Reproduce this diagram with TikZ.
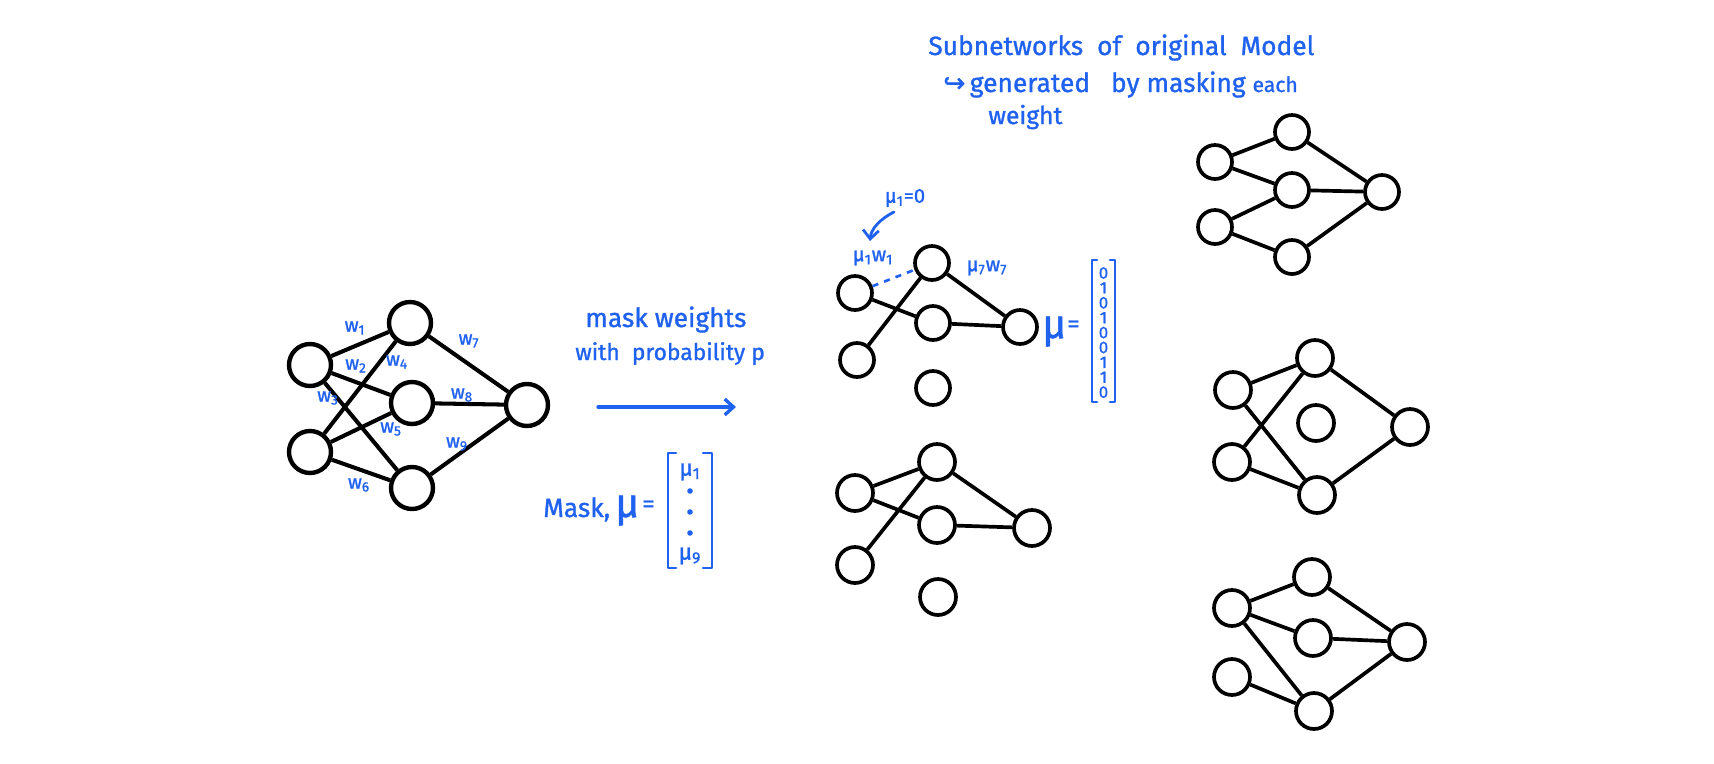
\documentclass[tikz,border=0pt]{standalone}
\usepackage{fontspec}
\setmainfont{Fira Sans}[FakeBold=1.2]
\newfontfamily\dejavu{DejaVu Sans}[FakeBold=1.2]
\usetikzlibrary{arrows.meta}
\definecolor{hb}{RGB}{32,98,240}
\begin{document}
\begin{tikzpicture}[x=0.02cm,y=-0.02cm,
  big/.style={circle,draw,line width=2.5pt,minimum size=0.84cm,inner sep=0},
  sm/.style={circle,draw,line width=2.1pt,minimum size=0.68cm,inner sep=0},
  smm/.style={circle,draw,line width=2.1pt,minimum size=0.72cm,inner sep=0},
  ed/.style={line width=2.1pt},
  wl/.style={text=hb,font=\fontsize{11}{13}\selectfont,inner sep=0},
  bl/.style={text=hb,inner sep=0},
  vec/.style={text=hb,font=\fontsize{9.5}{10}\selectfont,inner sep=0},
  brk/.style={draw=hb,line width=1.5pt,line cap=round,line join=round},
  harrow/.style={draw=hb,line width=1.6pt,line cap=round,-{Straight Barb[length=5pt,width=9pt]}}]
\useasboundingbox (0,0) rectangle (1714,764);

% ---------- left network ----------
\node[big] (a1) at (310,365) {};
\node[big] (a2) at (310,452) {};
\node[big] (b1) at (410,323) {};
\node[big] (b2) at (412,403) {};
\node[big] (b3) at (412,488) {};
\node[big] (c) at (527,405) {};
\foreach \i in {a1,a2}{\foreach \j in {b1,b2,b3}{\draw[ed,line width=2.3pt] (\i)--(\j);}}
\foreach \j in {b1,b2,b3}{\draw[ed,line width=2.3pt] (\j)--(c);}
\node[wl] (w1) at (355,328) {w\textsubscript{1}};
\node[wl] (w2) at (356,366) {w\textsubscript{2}};
\node[wl] (w3) at (328,398) {w\textsubscript{3}};
\node[wl] (w4) at (397,362) {w\textsubscript{4}};
\node[wl] (w5) at (391,429) {w\textsubscript{5}};
\node[wl] (w6) at (359,485) {w\textsubscript{6}};
\node[wl] (w7) at (469,341) {w\textsubscript{7}};
\node[wl] (w8) at (462,395) {w\textsubscript{8}};
\node[wl] (w9) at (457,444) {w\textsubscript{9}};

% ---------- arrow and its text ----------
\node[bl,anchor=base west,font=\fontsize{15}{18}\selectfont] (mw) at (585,327) {mask weights};
\node[bl,anchor=base west,font=\fontsize{13}{16}\selectfont] (wp) at (575,360) {with\ \ probability p};
\coordinate (ar1) at (598,407);
\coordinate (ar2) at (736,407);
\draw[harrow,line width=1.9pt] (ar1)--(ar2);

% ---------- mask vector ----------
\node[bl,anchor=base west,font=\fontsize{15}{18}\selectfont] (mk) at (543,517) {Mask,};
\node[bl,anchor=base west,font=\fontsize{23}{26}\selectfont] (mu) at (615,517) {μ};
\node[bl,anchor=base west,font=\fontsize{14}{16}\selectfont] (eq) at (642,512) {=};
\draw[brk] (676,453) -- (668,453) -- (668,568) -- (676,568);
\draw[brk] (703,453) -- (712,453) -- (712,568) -- (703,568);
\node[bl,font=\fontsize{13}{15}\selectfont] (m1) at (690,472) {μ\textsubscript{1}};
\fill[hb] (690,491) circle (2.8);
\fill[hb] (690,512) circle (2.8);
\fill[hb] (690,533) circle (2.8);
\node[bl,font=\fontsize{13}{15}\selectfont] (m9) at (690,556) {μ\textsubscript{9}};

% ---------- middle top network ----------
\node[sm] (p1) at (855,293) {};
\node[sm] (p2) at (857,360) {};
\node[sm] (q1) at (932,263) {};
\node[sm] (q2) at (933,323) {};
\node[sm] (q3) at (933,388) {};
\node[sm] (r) at (1020,327) {};
\draw[ed] (p1)--(q2);
\draw[ed] (p2)--(q1);
\draw[ed] (q1)--(r);
\draw[ed] (q2)--(r);
\draw[hb,line width=1.5pt,dash pattern=on 3.5pt off 3.5pt] (p1)--(q1);
\node[wl,font=\fontsize{11.5}{13}\selectfont] (l1) at (873,258) {μ\textsubscript{1}w\textsubscript{1}};
\node[wl,font=\fontsize{11.5}{13}\selectfont] (l7) at (987,268) {μ\textsubscript{7}w\textsubscript{7}};
\node[wl,font=\fontsize{11.5}{13}\selectfont] (l0) at (905,198) {μ\textsubscript{1}=0};
\coordinate (ca1) at (894,212);
\coordinate (ca2) at (870,241);
\draw[harrow,line width=1.6pt] (ca1) .. controls (880,219) and (871,229) .. (ca2);
\node[bl,anchor=base west,font=\fontsize{23}{26}\selectfont] (mu2) at (1042,338) {μ};
\node[bl,anchor=base west,font=\fontsize{14}{16}\selectfont] (eq2) at (1067,332) {=};
\draw[brk] (1097,260) -- (1092,260) -- (1092,402) -- (1097,402);
\draw[brk] (1110,260) -- (1115,260) -- (1115,402) -- (1110,402);
\foreach \v [count=\k from 0] in {0,1,0,1,0,0,1,1,0}{
  \node[vec] (v\k) at (1103.5,273+14.9*\k) {\v};
}

% ---------- middle bottom network ----------
\node[smm] (s1) at (855,493) {};
\node[smm] (s2) at (855,565) {};
\node[smm] (t1) at (937,462) {};
\node[smm] (t2) at (937,525) {};
\node[smm] (t3) at (938,597) {};
\node[smm] (u) at (1032,528) {};
\draw[ed] (s1)--(t1);
\draw[ed] (s1)--(t2);
\draw[ed] (s2)--(t1);
\draw[ed] (t1)--(u);
\draw[ed] (t2)--(u);

% ---------- right top network ----------
\node[sm] (e1) at (1215,162) {};
\node[sm] (e2) at (1215,227) {};
\node[sm] (f1) at (1292,132) {};
\node[sm] (f2) at (1292,190) {};
\node[sm] (f3) at (1292,257) {};
\node[sm] (g) at (1382,192) {};
\draw[ed] (e1)--(f1);
\draw[ed] (e1)--(f2);
\draw[ed] (e2)--(f2);
\draw[ed] (e2)--(f3);
\draw[ed] (f1)--(g);
\draw[ed] (f2)--(g);
\draw[ed] (f3)--(g);

% ---------- right middle network ----------
\node[smm] (h1) at (1233,390) {};
\node[smm] (h2) at (1232,462) {};
\node[smm] (i1) at (1315,358) {};
\node[smm] (i2) at (1316,423) {};
\node[smm] (i3) at (1317,495) {};
\node[smm] (j) at (1410,427) {};
\draw[ed] (h1)--(i1);
\draw[ed] (h1)--(i3);
\draw[ed] (h2)--(i1);
\draw[ed] (h2)--(i3);
\draw[ed] (i1)--(j);
\draw[ed] (i3)--(j);

% ---------- right bottom network ----------
\node[smm] (k1) at (1232,608) {};
\node[smm] (k2) at (1232,677) {};
\node[smm] (n1) at (1312,577) {};
\node[smm] (n2) at (1313,638) {};
\node[smm] (n3) at (1314,711) {};
\node[smm] (o) at (1407,642) {};
\draw[ed] (k1)--(n1);
\draw[ed] (k1)--(n2);
\draw[ed] (k1)--(n3);
\draw[ed] (k2)--(n3);
\draw[ed] (n1)--(o);
\draw[ed] (n2)--(o);
\draw[ed] (n3)--(o);

% ---------- top text ----------
\node[bl,anchor=base west,font=\fontsize{15}{18}\selectfont] (tt1) at (928,55) {Subnetworks\ \ of\ \ original\ \ Model};
\node[bl,anchor=base west,font=\fontsize{15}{18}\selectfont] (tt2) at (943,92) {{\dejavu ↪}\,generated\ \ \ by\ masking {\fontsize{12}{14}\selectfont each}};
\node[bl,anchor=base west,font=\fontsize{14}{16}\selectfont] (tt3) at (988,124) {weight};
\end{tikzpicture}
\end{document}
